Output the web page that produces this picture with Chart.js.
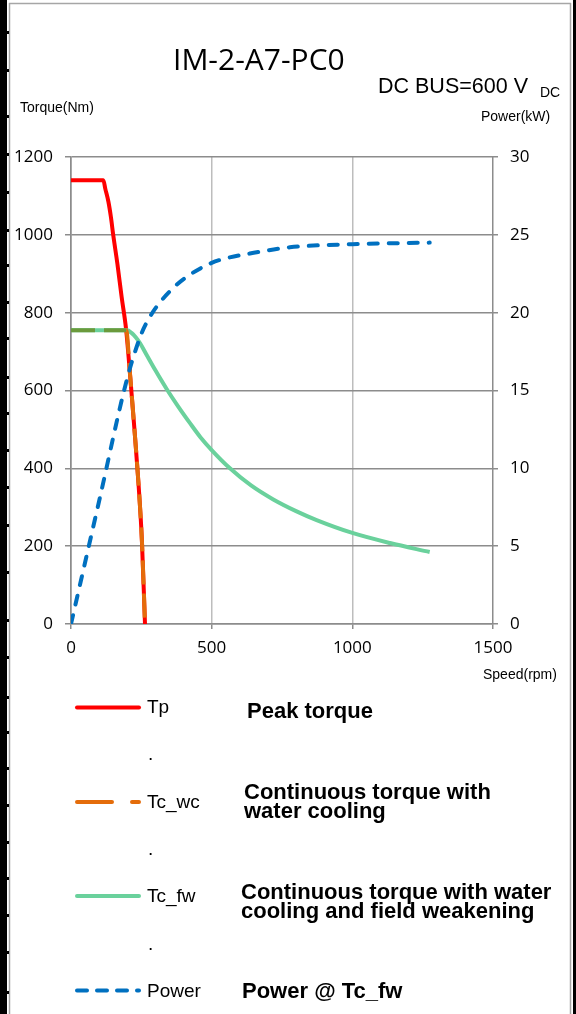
<!DOCTYPE html>
<html>
<head>
<meta charset="utf-8">
<script src="https://cdn.jsdelivr.net/npm/chart.js@4.4.1/dist/chart.umd.min.js"></script>
<style>
  html, body { margin: 0; padding: 0; background: #fff; }
  #page { position: relative; width: 576px; height: 1014px; overflow: hidden; background: #fff; }
  #chartBox { position: absolute; left: 10px; top: 130px; width: 564px; height: 540px; }
  #overlay { position: absolute; left: 0; top: 0; pointer-events: none; }
  .edgeBar { position: absolute; top: 0; height: 1014px; background: #000; z-index: 5; }
  .edgeMark { position: absolute; left: 0; width: 9px; height: 3px; background: #000; z-index: 5; }
  .ax { font-family: 'Liberation Sans', Arial, sans-serif; font-size: 14px; fill: #000; }
  .lab { font-family: 'Liberation Sans', Arial, sans-serif; font-size: 19px; fill: #000; }
  .desc { font-family: 'Liberation Sans', Arial, sans-serif; font-size: 22px; font-weight: bold; fill: #000; }
</style>
</head>
<body>
<div id="page">
  <div id="chartBox"><canvas id="chart" width="564" height="540"></canvas></div>
  <svg id="overlay" width="576" height="1014" viewBox="0 0 576 1014" xmlns="http://www.w3.org/2000/svg">
    <line x1="9.5" y1="3" x2="9.5" y2="1014" stroke="#a6a6a6" stroke-width="1.5"/>
    <line x1="9" y1="3.5" x2="571" y2="3.5" stroke="#a6a6a6" stroke-width="1.5"/>
    <line x1="570.5" y1="3" x2="570.5" y2="1014" stroke="#a6a6a6" stroke-width="1.5"/>

    <text x="173" y="70" font-family="'Open Sans', sans-serif" font-size="30">IM-2-A7-PC0</text>
    <text x="378" y="93" font-family="'Liberation Sans', Arial, sans-serif" font-size="21.5">DC BUS=600 V</text>
    <text x="540" y="97" font-family="'Liberation Sans', Arial, sans-serif" font-size="14">DC</text>

    <text class="ax" x="20" y="112">Torque(Nm)</text>
    <text class="ax" x="481" y="121">Power(kW)</text>
    <text class="ax" x="483" y="679">Speed(rpm)</text>

    <line x1="77" y1="707.5" x2="139" y2="707.5" stroke="#ff0000" stroke-width="4" stroke-linecap="round"/>
    <text class="lab" x="147" y="713">Tp</text>
    <text class="desc" x="247" y="718">Peak torque</text>
    <text class="lab" x="148" y="760">.</text>

    <line x1="77" y1="802" x2="139" y2="802" stroke="#e46c0a" stroke-width="4" stroke-linecap="round" stroke-dasharray="35 20 10"/>
    <text class="lab" x="147" y="808">Tc_wc</text>
    <text class="desc" x="244" y="799">Continuous torque with</text>
    <text class="desc" x="244" y="818">water cooling</text>
    <text class="lab" x="148" y="855">.</text>

    <line x1="77" y1="896" x2="139" y2="896" stroke="#6ad19c" stroke-width="4" stroke-linecap="round"/>
    <text class="lab" x="147" y="902">Tc_fw</text>
    <text class="desc" x="241" y="899">Continuous torque with water</text>
    <text class="desc" x="241" y="918">cooling and field weakening</text>
    <text class="lab" x="148" y="950">.</text>

    <line x1="77" y1="990.5" x2="139" y2="990.5" stroke="#0070c0" stroke-width="4" stroke-linecap="round" stroke-dasharray="10 10"/>
    <text class="lab" x="147" y="997">Power</text>
    <text class="desc" x="242" y="998">Power @ Tc_fw</text>
  </svg>
  <div class="edgeBar" style="left:0;width:7px"></div>
  <div class="edgeBar" style="left:573px;width:3px"></div>
  <div id="edge"></div>
</div>
<script>
// curves (speed in rpm, torque in Nm, power in kW)
const tpSpeed = [0, 115, 122, 133, 142, 150, 165, 180, 196, 210, 225, 240, 252, 263]
const tpTorque = [1140, 1140, 1118, 1085, 1045, 1000, 925, 840, 756, 640, 505, 360, 215, 0]

const wcSpeed = [0, 196, 210, 225, 240, 252, 263]
const wcTorque = [755, 755, 640, 505, 360, 215, 0]

const fwSpeed = [0, 200, 215, 230, 245, 267, 300, 340, 380, 423, 460, 500, 565, 640, 719, 800, 873, 1000, 1134, 1275]
const fwTorque = [755, 755, 748, 737, 722, 694, 652, 604, 560, 516, 480, 447, 400, 356, 320, 290, 267, 234, 208, 185]

const powerSpeed = [0, 100, 200, 245, 267, 305, 364, 411, 500, 553, 636, 778, 1000, 1275]
const powerKw = [0, 7.9, 15.8, 18.4, 19.3, 20.4, 21.6, 22.3, 23.2, 23.5, 23.8, 24.2, 24.4, 24.5]

const speedTicks = [0, 500, 1000, 1500]
const torqueTicks = [0, 200, 400, 600, 800, 1000, 1200]
const powerTicks = [0, 5, 10, 15, 20, 25, 30]

// little marks on the black page edge
const edgeMarks = [32, 70, 116, 154, 192, 230, 265, 302, 338, 377, 413, 450, 487, 525, 572, 620, 657, 697, 732, 768, 805, 842, 878, 915, 952, 992]

const toPoints = (xs, ys) => xs.map((x, i) => ({ x: x, y: ys[i] }))

function drawEdge () {
  const holder = document.getElementById('edge')
  edgeMarks.forEach(y => {
    const d = document.createElement('div')
    d.className = 'edgeMark'
    d.style.top = (y - 1) + 'px'
    holder.appendChild(d)
  })
}

const gridDark = '#8c8c8c'
const gridLight = '#bdbdbd'
const tickFont = { family: "'Open Sans', sans-serif", size: 17 }
const plainLabel = v => String(v)

const lineBase = {
  pointRadius: 0,
  borderWidth: 4,
  fill: false,
  cubicInterpolationMode: 'monotone'
}

drawEdge()

const ctx = document.getElementById('chart').getContext('2d')
new Chart(ctx, {
  type: 'line',
  data: {
    datasets: [{
      ...lineBase,
      label: 'Power',
      data: toPoints(powerSpeed, powerKw),
      yAxisID: 'y2',
      borderColor: '#0070c0',
      borderDash: [9, 11],
      borderCapStyle: 'round'
    },
    {
      ...lineBase,
      label: 'Tc_wc',
      data: toPoints(wcSpeed, wcTorque),
      yAxisID: 'y',
      borderColor: '#e46c0a',
      borderDash: [24, 9],
      segment: {
        // where it runs over the green line the dashes look olive
        borderColor: c => c.p0.parsed.y === c.p1.parsed.y ? '#6b9a3c' : '#e46c0a'
      }
    },
    {
      ...lineBase,
      label: 'Tc_fw',
      data: toPoints(fwSpeed, fwTorque),
      yAxisID: 'y',
      borderColor: '#6ad19c'
    },
    {
      ...lineBase,
      label: 'Tp',
      data: toPoints(tpSpeed, tpTorque),
      yAxisID: 'y',
      borderColor: '#ff0000'
    }]
  },
  options: {
    responsive: false,
    animation: false,
    layout: { padding: { top: 27, left: 0, right: 0, bottom: 0 } },
    plugins: { legend: { display: false }, tooltip: { enabled: false } },
    scales: {
      x: {
        type: 'linear',
        position: 'bottom',
        min: 0,
        max: 1500,
        afterBuildTicks: s => { s.ticks = speedTicks.map(v => ({ value: v })) },
        afterFit: s => { s.height = 46 },
        grid: {
          color: c => (c.tick && (c.tick.value === 500 || c.tick.value === 1000)) ? gridLight : gridDark,
          tickColor: gridDark,
          lineWidth: 1.5,
          tickLength: 5
        },
        border: { color: gridDark, width: 1.5 },
        ticks: { font: tickFont, color: '#000', padding: 9, maxRotation: 0, callback: plainLabel }
      },
      y: {
        position: 'left',
        min: 0,
        max: 1200,
        afterBuildTicks: s => { s.ticks = torqueTicks.map(v => ({ value: v })) },
        afterFit: s => { s.width = 61 },
        grid: { color: gridDark, lineWidth: 1.5, tickLength: 6 },
        border: { color: gridDark, width: 1.5 },
        ticks: { font: tickFont, color: '#000', padding: 12, callback: plainLabel }
      },
      y2: {
        position: 'right',
        min: 0,
        max: 30,
        afterBuildTicks: s => { s.ticks = powerTicks.map(v => ({ value: v })) },
        afterFit: s => { s.width = 81 },
        grid: { drawOnChartArea: false, color: gridDark, lineWidth: 1.5, tickLength: 5 },
        border: { display: false },
        ticks: { font: tickFont, color: '#000', padding: 12, callback: plainLabel }
      }
    }
  }
})
</script>
</body>
</html>
